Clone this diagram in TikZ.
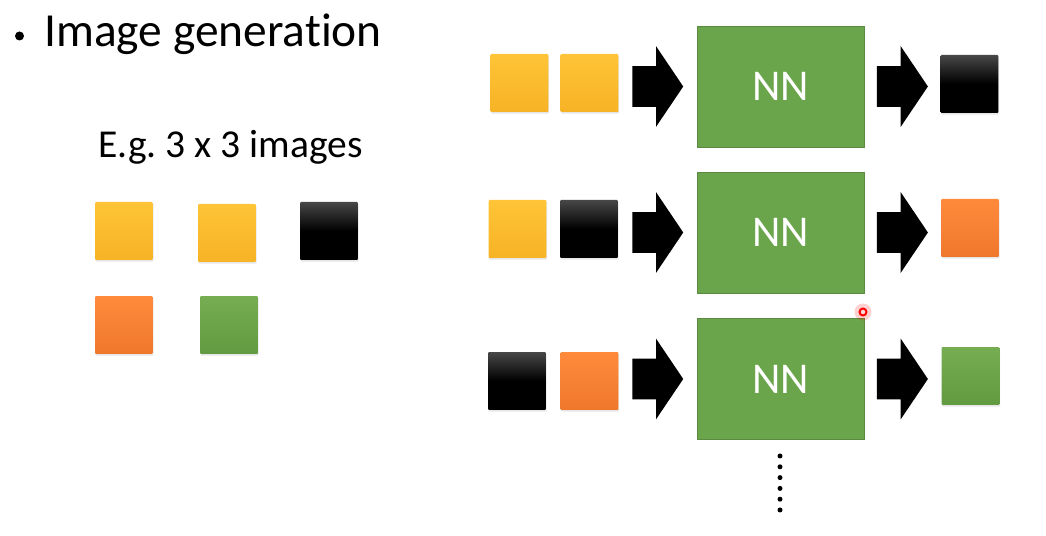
\documentclass[tikz,border=0pt]{standalone}
\usepackage{fontspec}
\setmainfont{Carlito}[Ligatures=NoCommon]
\usetikzlibrary{shapes.arrows,shadows,calc}
\definecolor{ylwtop}{HTML}{FFC437}
\definecolor{ylwbot}{HTML}{F6B325}
\definecolor{orgtop}{HTML}{FF8A3C}
\definecolor{orgbot}{HTML}{EE772C}
\definecolor{grntop}{HTML}{76AD52}
\definecolor{grnbot}{HTML}{619A40}
\definecolor{nngreen}{HTML}{6AA44B}
\begin{document}
\begin{tikzpicture}[x=0.02cm, y=-0.02cm,
    pix/.style={minimum size=1.16cm, inner sep=0pt, rounded corners=0.6pt,
      drop shadow={opacity=0.2, shadow xshift=0.4pt, shadow yshift=-0.9pt}},
    ylw/.style={pix, top color=ylwtop, bottom color=ylwbot},
    blk/.style={pix, top color=black!72, bottom color=black, middle color=black},
    org/.style={pix, top color=orgtop, bottom color=orgbot},
    grn/.style={pix, top color=grntop, bottom color=grnbot},
    nn/.style={fill=nngreen, draw=nngreen!85!black, line width=0.4pt,
      minimum width=3.34cm, minimum height=2.42cm, text=white,
      font=\fontsize{25}{30}\selectfont},
    blockarrow/.style={single arrow, fill=black, inner xsep=0pt, inner ysep=0.4cm,
      minimum height=1.02cm, anchor=tip,
      single arrow head extend=0.4cm, single arrow tip angle=112}]
\useasboundingbox (0,0) rectangle (1046,536);
% left side
\fill (19.5,36) circle (0.09cm) coordinate (dot);
\node[anchor=base west, inner sep=0pt, font=\fontsize{27}{32}\selectfont] (title) at (44,47)
  {Image generation};
\node[anchor=base west, inner sep=0pt, font=\fontsize{22.5}{27}\selectfont] (eg) at (98,158)
  {E.g.\ 3 x 3 images};
\node[ylw] (img1) at (124,231) {};
\node[ylw] (img2) at (227,233) {};
\node[blk] (img3) at (329,231) {};
\node[org] (img4) at (124,325) {};
\node[grn] (img5) at (229,325) {};
% right side, one row per pixel
\node[nn] (nn1) at (780.5,86.5) {NN};
\node[ylw] (in11) at (519.5,83) {};
\node[ylw] (in12) at (589.5,83) {};
\node[blk] (out1) at (969.5,84) {};
\node[nn] (nn2) at (780.5,232.5) {NN};
\node[ylw] (in21) at (517.5,229) {};
\node[blk] (in22) at (589,229) {};
\node[org] (out2) at (970,228) {};
\node[nn] (nn3) at (780.5,379) {NN};
\node[blk] (in31) at (517,381) {};
\node[org] (in32) at (589.5,381) {};
\node[grn] (out3) at (970.5,376) {};
\foreach \r in {1,2,3}{
  \node[blockarrow] (ain\r) at ($(nn\r.west)+(-13,0)$) {};
  \node[blockarrow] (aout\r) at ($(nn\r.east)+(64,0)$) {};
}
% more rows
\foreach \k in {0,...,5}
  \fill (780,456+10.8*\k) circle (0.05cm);
% pointer
\fill[red, opacity=0.18] (863,312) circle (0.17cm);
\draw[red, line width=1.1pt, fill=red!15!white] (863,312) circle (0.07cm);
\end{tikzpicture}
\end{document}
